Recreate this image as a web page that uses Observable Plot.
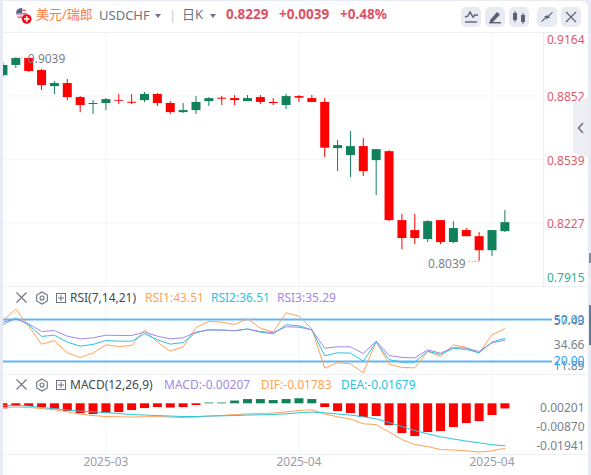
<!DOCTYPE html>
<html>
<head>
<meta charset="utf-8">
<script src="https://cdn.jsdelivr.net/npm/d3@7"></script>
<script src="https://cdn.jsdelivr.net/npm/@observablehq/plot@0.6"></script>
<style>
html,body{margin:0;padding:0;background:#e8ebf4;width:591px;height:475px;overflow:hidden}
#panel{position:absolute;left:3px;top:1px;width:585px;height:474px;background:#fff;border-top-right-radius:6px}
.strip{position:absolute;background:#e8ebf4;z-index:5}
.pane{position:absolute;left:0;top:0}
.pane svg{overflow:visible;display:block}
.t{position:absolute;white-space:nowrap;font-family:"Noto Sans","Noto Sans CJK SC",sans-serif;font-size:13px;line-height:16px;z-index:6}
.v{color:#dd5263;font-weight:700;font-size:13.5px}
.s{font-size:12px}
.tri{position:absolute;top:14px;width:0;height:0;border-left:3px solid transparent;border-right:3px solid transparent;border-top:4px solid #6e7380;z-index:6}
.btn{position:absolute;top:7px;width:20px;height:20px;border-radius:5px;background:#e9ebf2;z-index:6}
.btn svg,.ic{position:absolute;left:0;top:0}
.line{position:absolute;height:1px;left:3px;background:#eff0f5;z-index:0}
</style>
</head>
<body>
<div id="panel"></div>
<div class="line" style="top:32px;width:585px"></div>
<div class="line" style="top:286px;width:585px"></div>
<div class="line" style="top:374px;width:585px"></div>
<div class="line" style="top:454px;width:585px"></div>
<div id="root"></div>

<svg class="ic" style="left:15px;top:7px;z-index:6" width="18" height="18" viewBox="0 0 18 18">
  <clipPath id="fl"><circle cx="6.5" cy="6.5" r="5.5"/></clipPath>
  <g clip-path="url(#fl)">
    <rect x="0" y="0" width="13" height="13" fill="#e8e8ee"/>
    <rect x="0" y="2.5" width="13" height="1.6" fill="#d97a88"/>
    <rect x="0" y="6" width="13" height="1.6" fill="#d97a88"/>
    <rect x="0" y="9.5" width="13" height="1.6" fill="#d97a88"/>
    <rect x="0" y="0" width="7" height="6" fill="#56608e"/>
  </g>
  <circle cx="11.7" cy="12" r="4.8" fill="#f00a14"/>
  <rect x="9" y="11.2" width="5.4" height="1.6" fill="#fff"/>
  <rect x="10.9" y="9.3" width="1.6" height="5.4" fill="#fff"/>
</svg>
<div class="t" style="left:36px;top:6px;color:#ff7a45">美元/瑞郎</div>
<div class="t" style="left:99px;top:7px;color:#6e7380">USDCHF</div>
<div class="tri" style="left:155px"></div>
<div class="t" style="left:169px;top:7px;color:#c9ccd4">|</div>
<div class="t" style="left:182px;top:6px;color:#6e7380">日K</div>
<div class="tri" style="left:210px"></div>
<div class="t v" style="left:226px;top:6px">0.8229</div>
<div class="t v" style="left:279px;top:6px">+0.0039</div>
<div class="t v" style="left:340px;top:6px">+0.48%</div>

<div class="btn" style="left:461px"><svg width="20" height="20" fill="none" stroke="#5c6272" stroke-width="1.4"><path d="M4 10l3-1 2-4 3 5 2-2h3"/><path d="M4 15h12"/></svg></div>
<div class="btn" style="left:485px"><svg width="20" height="20" fill="#5c6272"><path d="M5 13l7-8 3 2.5-7 7.5-3 .5z"/><rect x="4" y="15" width="12" height="1.4"/></svg></div>
<div class="btn" style="left:509px"><svg width="20" height="20" fill="#5c6272"><rect x="4" y="6" width="4" height="7"/><rect x="5.5" y="4" width="1" height="11"/><rect x="12" y="8" width="4" height="7"/><rect x="13.5" y="6" width="1" height="11"/></svg></div>
<div class="btn" style="left:537px"><svg width="20" height="20" fill="#5c6272"><path d="M11 9l4-4 .8.8-4 4 1.6 1.1-4 .1.5-3.8z"/><path d="M9 11l-4 4-.8-.8 4-4-1.4-1 3.8-.3-.2 3.9z"/></svg></div>
<div class="btn" style="left:561px"><svg width="20" height="20" stroke="#5c6272" stroke-width="1.2"><path d="M5 5l10 10M15 5L5 15"/></svg></div>

<div style="position:absolute;left:573px;top:97px;width:16px;height:61px;background:#eceef3;clip-path:polygon(0 6px,100% 0,100% 100%,0 91%);z-index:4"></div>
<svg class="ic" style="left:576px;top:121px;z-index:6" width="10" height="14" fill="none" stroke="#6e7380" stroke-width="1.6"><path d="M7 2L2.5 7 7 12"/></svg>
<div class="strip" style="left:589px;top:305px;width:2px;height:40px;background:#5e7d96"></div>
<div class="strip" style="left:589px;top:253px;width:2px;height:10px;background:#7d8fa0"></div>

<svg class="ic" style="left:15px;top:291px;z-index:6" width="52" height="14" fill="none" stroke="#6e7380">
  <path d="M1.5 1.5l10 10M11.5 1.5l-10 10" stroke-width="1.1"/>
  <path d="M27 1l5.3 3v6L27 13l-5.3-3V4z" stroke-width="1.1"/><circle cx="27" cy="7" r="2" stroke-width="1.1"/>
  <rect x="41.5" y="2.5" width="9" height="9" stroke-width="1"/><path d="M46 4v6M43 7h6" stroke-width="1"/>
</svg>
<svg class="ic" style="left:15px;top:378px;z-index:6" width="52" height="14" fill="none" stroke="#6e7380">
  <path d="M1.5 1.5l10 10M11.5 1.5l-10 10" stroke-width="1.1"/>
  <path d="M27 1l5.3 3v6L27 13l-5.3-3V4z" stroke-width="1.1"/><circle cx="27" cy="7" r="2" stroke-width="1.1"/>
  <rect x="41.5" y="2.5" width="9" height="9" stroke-width="1"/><path d="M46 4v6M43 7h6" stroke-width="1"/>
</svg>
<div class="t s" style="left:70px;top:290px;color:#444853">RSI(7,14,21)</div>
<div class="t s" style="left:145px;top:290px;color:#ffa257">RSI1:43.51</div>
<div class="t s" style="left:211px;top:290px;color:#2cc4dc">RSI2:36.51</div>
<div class="t s" style="left:277px;top:290px;color:#a488e8">RSI3:35.29</div>
<div class="t s" style="left:70px;top:377px;color:#444853">MACD(12,26,9)</div>
<div class="t s" style="left:164px;top:377px;color:#a488e8">MACD:-0.00207</div>
<div class="t s" style="left:261px;top:377px;color:#ffa257">DIF:-0.01783</div>
<div class="t s" style="left:341px;top:377px;color:#2cc4dc">DEA:-0.01679</div>

<div class="strip" style="left:0;top:0;width:2.5px;height:475px"></div>

<script>
const open_ = [.8952,.9002,.9036,.8977,.8898,.8913,.8844,.8810,.8815,.8830,.8821,.8829,.8859,.8815,.8770,.8780,.8824,.8841,.8839,.8824,.8844,.8820,.8805,.8849,.8839,.8820,.8593,.8559,.8603,.8534,.8578,.8239,.8190,.8146,.8239,.8131,.8190,.8160,.8091,.8185];
const close_ = [.9002,.9036,.8972,.8903,.8913,.8844,.8805,.8815,.8834,.8826,.8816,.8859,.8815,.8770,.8780,.8820,.8839,.8836,.8829,.8839,.8820,.8815,.8849,.8841,.8820,.8595,.8608,.8603,.8480,.8588,.8239,.8151,.8151,.8234,.8131,.8200,.8160,.8091,.8190,.8229];
const high = [.9013,.9039,.9039,.8982,.8923,.8933,.8849,.8829,.8839,.8859,.8859,.8869,.8864,.8824,.8815,.8849,.8844,.8849,.8854,.8854,.8854,.8839,.8859,.8854,.8854,.8839,.8633,.8677,.8642,.8588,.8583,.8269,.8269,.8239,.8239,.8234,.8200,.8180,.8190,.8288];
const low = [.8944,.8987,.8967,.8879,.8859,.8829,.8770,.8761,.8780,.8810,.8810,.8820,.8800,.8761,.8766,.8761,.8800,.8805,.8805,.8824,.8810,.8805,.8785,.8820,.8820,.8550,.8480,.8451,.8456,.8362,.8234,.8096,.8121,.8131,.8121,.8126,.8160,.8039,.8062,.8180];
const rsi1 = [49.3,57.4,45.2,32.4,34.8,26.2,22.9,26.0,31.9,30.7,31.4,42.6,33.8,27.4,30.5,44.3,48.6,48.1,46.4,50.5,43.8,41.0,54.8,52.4,43.3,15.3,19.1,18.3,11.9,34.3,18.1,15.7,15.5,27.2,23.6,31.9,30.0,26.0,39.1,43.51];
const rsi2 = [46.4,51.0,46.2,37.9,38.8,33.8,31.0,32.2,35.0,34.5,34.5,39.8,35.5,32.4,33.6,40.7,42.6,42.4,41.9,43.3,41.0,39.8,46.2,45.5,42.6,24.1,26.2,26.0,20.3,33.8,21.4,19.5,19.5,27.4,25.0,29.5,28.6,26.2,33.8,36.51];
const rsi3 = [48.1,50.5,46.9,41.4,42.1,38.1,36.2,36.9,38.8,38.6,38.6,41.0,38.1,36.2,36.9,41.0,42.6,42.4,42.1,43.1,41.4,40.7,44.8,44.5,42.6,29.5,30.5,30.5,25.7,34.5,24.3,22.9,22.6,28.3,26.0,30.0,29.5,27.2,33.3,35.29];
const macdHist = [-.0020,-.0009,-.0011,-.0015,-.0023,-.0031,-.0039,-.0043,-.0039,-.0035,-.0027,-.0019,-.0015,-.0017,-.0015,-.0007,.0003,.0003,.0011,.0017,.0017,.0013,.0017,.00201,.0017,-.0015,-.0031,-.0039,-.0055,-.0051,-.0087,-.0119,-.0131,-.0115,-.0111,-.0095,-.0079,-.0071,-.0047,-.00207];
const dif = [-.0015,-.0013,-.0015,-.0019,-.0024,-.0032,-.0041,-.0047,-.0051,-.0052,-.0053,-.0052,-.0051,-.0053,-.0055,-.0053,-.0049,-.0047,-.0043,-.0040,-.0039,-.0037,-.0032,-.0027,-.0024,-.0041,-.0052,-.0061,-.0080,-.0083,-.0113,-.0143,-.0163,-.0171,-.0183,-.0185,-.0188,-.0193,-.0188,-.01783];
const dea = [-.0007,-.0007,-.0009,-.0015,-.0019,-.0025,-.0029,-.0032,-.0035,-.0039,-.0043,-.0045,-.0047,-.0049,-.0051,-.0051,-.0049,-.0048,-.0047,-.0045,-.0044,-.0043,-.0040,-.0036,-.0033,-.0036,-.0041,-.0045,-.0052,-.0060,-.0075,-.0091,-.0107,-.0120,-.0132,-.0141,-.0149,-.0156,-.0164,-.01679];
const dateTicks = [8,23,38];
const dateLabels = ["2025-03","2025-04","2025-04"];
const priceTicks = [0.9164,0.8852,0.8539,0.8227,0.7915];
const rsiTicks = [57.43,34.66,11.89];
const rsiLevels = [50,20];
const macdTicks = [0.00201,-0.00870,-0.01941];

const RED="#ff0000", GREEN="#10815a", ORANGE="#ffa257", CYAN="#2cc4dc", PURPLE="#a488e8",
      GRID="#f3f4f8", LABEL="#7b7f8c", LEVEL="#64b5f6";
const FONT='"Noto Sans",sans-serif';
const xScale = {type:"linear",domain:[-0.19,45.73],range:[0,591],axis:null};
const idx = (d,i)=>i;
const candles = open_.map((o,i)=>({i,o,c:close_[i],h:high[i],l:low[i],col:close_[i]>=o?GREEN:RED}));
const vgrid = Plot.ruleX(dateTicks,{stroke:GRID,strokeWidth:1});
const rightLabels = (vals,digits,dy,fill)=>Plot.text(vals,{y:d=>d,text:d=>d.toFixed(digits),frameAnchor:"right",textAnchor:"end",dx:-7,dy,fill,fontSize:12,fontFamily:FONT});

function mount(top,plot){
  const d=document.createElement("div");
  d.className="pane";d.style.top=top+"px";
  d.appendChild(plot);document.getElementById("root").appendChild(d);
}
const base = {width:591,marginLeft:0,marginRight:0,marginTop:0,marginBottom:0,x:xScale,
  style:{background:"transparent",fontFamily:FONT,fontSize:"12px",overflow:"visible"}};

const topMax = candles[d3.maxIndex(high)], lowMin = candles[d3.minIndex(low)];
mount(32,Plot.plot({...base,height:254,
  y:{domain:[0.7915,0.9164],range:[254,0],axis:null},
  marks:[
    vgrid,
    Plot.ruleY(priceTicks.slice(1,4),{x1:0,x2:42,stroke:GRID}),
    Plot.ruleX([42],{stroke:"#eff0f5"}),
    Plot.ruleX(candles,{x:"i",y1:"l",y2:"h",stroke:"col",strokeWidth:1}),
    Plot.ruleX(candles,{x:"i",y1:"o",y2:"c",stroke:"col",strokeWidth:9}),
    Plot.ruleY([topMax],{y:"h",x1:d=>d.i,x2:d=>d.i+0.85,stroke:LABEL,strokeDasharray:"1,2"}),
    Plot.text([topMax],{x:"i",y:"h",text:d=>d.h.toFixed(4),textAnchor:"start",dx:12,dy:1.5,fill:LABEL,fontSize:12,fontFamily:FONT}),
    Plot.ruleY([lowMin],{y:"l",x1:d=>d.i,x2:d=>d.i-0.85,stroke:LABEL,strokeDasharray:"1,2"}),
    Plot.text([lowMin],{x:"i",y:"l",text:d=>d.l.toFixed(4),textAnchor:"end",dx:-13.5,dy:2.5,fill:LABEL,fontSize:12,fontFamily:FONT}),
    rightLabels([priceTicks[0]],4,8,"#e05a6a"),
    rightLabels(priceTicks.slice(1,2),4,1.3,"#e05a6a"),
    rightLabels(priceTicks.slice(2,4),4,1.6,"#e05a6a"),
    rightLabels([priceTicks[4]],4,-8,"#2fae96")
  ]}));

mount(287,Plot.plot({...base,height:88,
  y:{domain:[72.86,10],range:[0,88],axis:null},
  marks:[
    vgrid,
    Plot.ruleY(rsiLevels,{x1:0,x2:42.7,stroke:LEVEL,strokeWidth:2}),
    Plot.line(rsi1,{x:idx,y:d=>d,stroke:ORANGE,strokeWidth:1}),
    Plot.line(rsi2,{x:idx,y:d=>d,stroke:CYAN,strokeWidth:1}),
    Plot.line(rsi3,{x:idx,y:d=>d,stroke:PURPLE,strokeWidth:1}),
    rightLabels([rsiTicks[0]],2,12,LABEL),
    rightLabels([rsiTicks[1]],2,4,LABEL),
    rightLabels([rsiTicks[2]],2,-6.5,LABEL),
    rightLabels([rsiLevels[0]],2,0.7,"#2e9df0"),
    rightLabels([rsiLevels[1]],2,0,"#2e9df0")
  ]}));

mount(375,Plot.plot({...base,height:100,marginBottom:20,
  y:{domain:[-0.02068,0.01132],axis:null},
  marks:[
    Plot.ruleX(dateTicks,{y1:-0.02068,y2:0.01132,stroke:GRID}),
    Plot.ruleX(macdHist,{x:idx,y1:0,y2:d=>d,stroke:d=>d>=0?GREEN:RED,strokeWidth:9}),
    Plot.line(dif,{x:idx,y:d=>d,stroke:ORANGE,strokeWidth:1}),
    Plot.line(dea,{x:idx,y:d=>d,stroke:CYAN,strokeWidth:1}),
    Plot.axisX({ticks:dateTicks,tickSize:0,tickPadding:0,label:null,
      tickFormat:d=>dateLabels[dateTicks.indexOf(d)],color:"#9a9ea9",fontSize:12,fontFamily:FONT,dy:2}),
    rightLabels([macdTicks[0]],5,9,LABEL),
    rightLabels([macdTicks[1]],5,1.7,LABEL),
    rightLabels([macdTicks[2]],5,-6,LABEL)
  ]}));
</script>
</body>
</html>
